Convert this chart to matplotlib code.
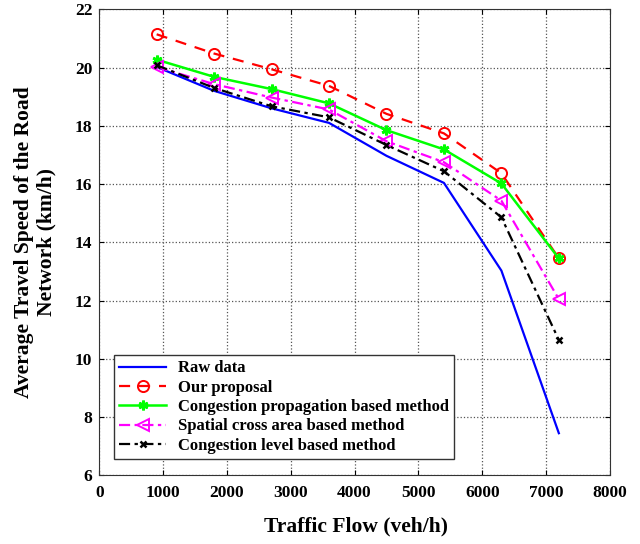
import matplotlib
matplotlib.use("Agg")
import matplotlib.pyplot as plt

flow = [900, 1800, 2700, 3600, 4500, 5400, 6300, 7200]
raw = [20.02, 19.2, 18.6, 18.1, 16.97, 16.04, 13.03, 7.45]
proposal = [21.14, 20.48, 19.94, 19.37, 18.41, 17.74, 16.37, 13.45]
propagation = [20.27, 19.68, 19.26, 18.77, 17.85, 17.19, 16.02, 13.45]
spatial = [20.02, 19.43, 18.97, 18.56, 17.47, 16.75, 15.43, 12.05]
level = [20.08, 19.3, 18.67, 18.29, 17.34, 16.44, 14.86, 10.65]

plt.rcParams['font.family'] = ['Liberation Serif', 'DejaVu Serif']
plt.rcParams['font.weight'] = 'bold'

fig = plt.figure(figsize=(6.4, 5.44), dpi=100)
ax = fig.add_axes([0.155, 0.126, 0.798, 0.857])

ax.plot(flow, raw, color='blue', lw=1.6, label='Raw data')
ax.plot(flow, proposal, color='red', lw=1.6, ls=(0, (5, 4)), marker='o',
        ms=8, mfc='none', mec='red', mew=1.4, label='Our proposal')
ax.plot(flow, propagation, color='#00ff00', lw=1.8, marker=(6, 2, 0),
        ms=7, mew=2, label='Congestion propagation based method')
ax.plot(flow, spatial, color='magenta', lw=1.6, ls=(0, (5, 2, 1.5, 2)), marker='<',
        ms=8, mfc='none', mec='magenta', mew=1.4, label='Spatial cross area based method')
ax.plot(flow, level, color='black', lw=1.6, ls=(0, (5, 2, 1.5, 2)), marker='x',
        ms=5, mew=1.8, label='Congestion level based method')

ax.set_xlim(0, 8000)
ax.set_ylim(6, 22)
ax.set_xticks(range(0, 8001, 1000))
ax.set_yticks(range(6, 23, 2))
ax.tick_params(direction='in', top=True, right=True, labelsize=12.5)
ax.tick_params(axis='x', pad=7)
ax.tick_params(axis='y', pad=5)
for lab in ax.get_xticklabels() + ax.get_yticklabels():
    lab.set_fontweight('bold')
ax.grid(True, ls=':', color='#555555', lw=0.9)
for s in ax.spines.values():
    s.set_color('#333333')

ax.set_xlabel('Traffic Flow (veh/h)', fontsize=15.5, fontweight='bold', va='center')
ax.xaxis.set_label_coords(0.503, -0.11)
ax.set_ylabel('Average Travel Speed of the Road\nNetwork (km/h)', fontsize=15.5,
              fontweight='bold', va='center')
ax.yaxis.set_label_coords(-0.125, 0.5)

leg = ax.legend(loc='lower left', bbox_to_anchor=(0.02, 0.025), fancybox=False,
                edgecolor='#333333', framealpha=1, fontsize=12,
                handlelength=2.8, handletextpad=0.7, borderpad=0.3, labelspacing=0.2,
                borderaxespad=0.3)
for t in leg.get_texts():
    t.set_fontweight('bold')
    t.set_fontsize(12)
leg.get_frame().set_linewidth(1.0)

fig.savefig('out.png', dpi=100)
